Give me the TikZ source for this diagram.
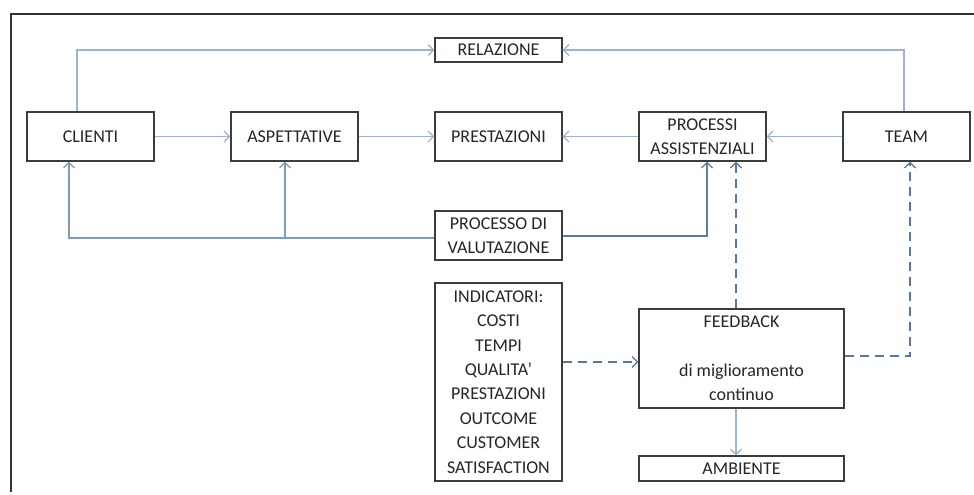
\documentclass[tikz,border=0pt]{standalone}
\usepackage{fontspec}
\setmainfont{Carlito}
\usetikzlibrary{arrows.meta,calc}
\definecolor{boxline}{HTML}{3C3C3C}
\definecolor{txt}{HTML}{262626}
\definecolor{lightln}{HTML}{9DB3C8}
\definecolor{midln}{HTML}{7E9AB9}
\definecolor{darkln}{HTML}{5F7DA3}
\definecolor{dashln}{HTML}{5876A0}
\tikzset{
  box/.style={draw=boxline, line width=1.3pt, rectangle, inner sep=0pt, text=txt,
    font=\fontsize{18}{24.4}\selectfont, align=center},
  tip/.style={-{Straight Barb[length=5.5pt,width=11pt,line width=1.2pt]}},
  thinarr/.style={tip, draw=lightln, line width=1.3pt},
  midarr/.style={tip, draw=midln, line width=2pt},
  darkarr/.style={tip, draw=darkln, line width=2.4pt},
  dasharr/.style={tip, draw=dashln, line width=2pt, dash pattern=on 9pt off 6pt},
  frame/.style={draw=black!80, line width=2.5pt}
}
\begin{document}
\begin{tikzpicture}[x=1pt,y=-1pt]
\useasboundingbox (0,0) rectangle (974,495);
\fill[white] (0,0) rectangle (974,495);
% frame (only top and left edges visible)
\coordinate (ftl) at (11,14);
\coordinate (ftr) at (974,14);
\coordinate (fbl) at (11,492);
\draw[frame] (ftr) -- (ftl) -- (fbl);

% nodes
\node[box, minimum width=127pt, minimum height=24pt] (rel) at (498.5,50) {RELAZIONE};
\node[box, minimum width=127pt, minimum height=49pt] (cli) at (90.5,136.5) {CLIENTI};
\node[box, minimum width=127pt, minimum height=49pt] (asp) at (294.5,136.5) {ASPETTATIVE};
\node[box, minimum width=127pt, minimum height=49pt] (pre) at (498.5,136.5) {PRESTAZIONI};
\node[box, minimum width=127pt, minimum height=49pt] (pro) at (702.5,136.5) {PROCESSI\\ASSISTENZIALI};
\node[box, minimum width=127pt, minimum height=49pt] (team) at (906.5,136.5) {TEAM};
\node[box, minimum width=127pt, minimum height=49pt] (val) at (498.5,235.5) {PROCESSO DI\\VALUTAZIONE};
\node[box, minimum width=127pt, minimum height=198pt] (ind) at (498.5,382) {INDICATORI:\\COSTI\\TEMPI\\QUALITA'\\PRESTAZIONI\\OUTCOME\\CUSTOMER\\SATISFACTION};
\node[box, minimum width=205pt, minimum height=99pt] (fb) at (741.5,358.5) {FEEDBACK\\[24.4pt]di miglioramento\\continuo};
\node[box, minimum width=205pt, minimum height=25pt] (amb) at (741.5,468.5) {AMBIENTE};

% bend coordinates
\coordinate (k1) at (77,50);
\coordinate (k2) at (904,52);
\coordinate (k3) at (69,238);
\coordinate (k4) at (285,238);
\coordinate (k5) at (707,236);
\coordinate (k6) at (736,300);
\coordinate (k7) at (910,356);
\coordinate (k8) at (600,362);

% top connectors
\draw[thinarr] (cli.north -| k1) |- (rel.west);
\draw[thinarr] (team.north -| k2) |- (rel.east);
% middle row
\draw[thinarr] (cli.east) -- (asp.west);
\draw[thinarr] (asp.east) -- (pre.west);
\draw[thinarr] (pro.west) -- (pre.east);
\draw[thinarr] (team.west) -- (pro.east);
% evaluation loops
\draw[midarr] (val.west |- k3) -| (cli.south -| k3);
\draw[midarr] (k4) -- (asp.south -| k4);
\draw[darkarr] (val.east |- k5) -| (pro.south -| k5);
% feedback dashed
\draw[dasharr] (fb.north -| k6) -- (pro.south -| k6);
\draw[dasharr] (fb.east |- k7) -| (team.south -| k7);
\draw[dasharr] (ind.east |- k8) -- (fb.west |- k8);
\draw[thinarr] (fb.south -| k6) -- (amb.north -| k6);
\end{tikzpicture}
\end{document}
